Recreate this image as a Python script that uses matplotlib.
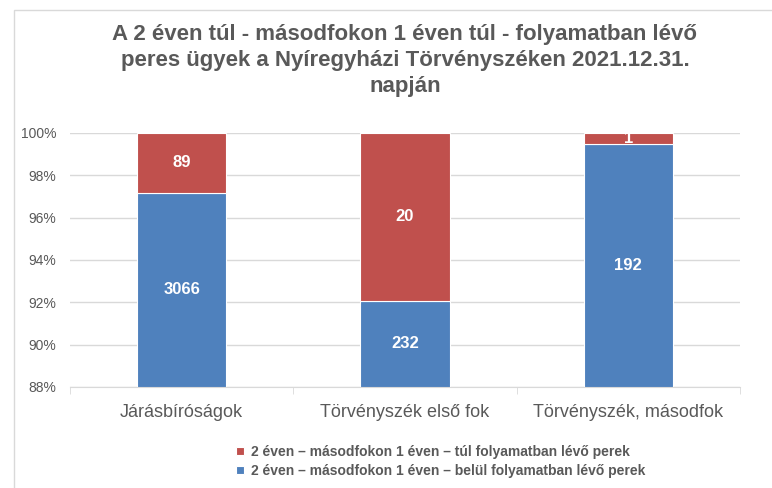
import numpy as np
import matplotlib.pyplot as plt
from matplotlib.patches import Rectangle
from matplotlib.ticker import FuncFormatter

categories = ['Járásbíróságok', 'Törvényszék első fok', 'Törvényszék, másodfok']
belul = [3066, 232, 192]   # 2 éven belül
tul = [89, 20, 1]          # 2 éven túl
legend_labels = ['2 éven – másodfokon 1 éven – túl folyamatban lévő perek',
                 '2 éven – másodfokon 1 éven – belül folyamatban lévő perek']
title = ('A 2 éven túl - másodfokon 1 éven túl - folyamatban lévő\n'
         'peres ügyek a Nyíregyházi Törvényszéken 2021.12.31.\nnapján')

plt.rcParams['font.family'] = ['Liberation Sans', 'DejaVu Sans']

blue = '#4F81BD'
red = '#C0504D'
grey = '#595959'

belul = np.array(belul, dtype=float)
tul = np.array(tul, dtype=float)
total = belul + tul
p_belul = belul / total
p_tul = tul / total

W, H = 772, 488
fig = plt.figure(figsize=(W / 100, H / 100), dpi=100)
ax = fig.add_axes([70 / W, 1 - 387 / H, 670 / W, 254 / H])

# outer frame of the chart area
fig.patches.append(Rectangle((14 / W, -0.1), 2, 1.1 - 10 / H, transform=fig.transFigure,
                             fill=False, edgecolor='#D9D9D9', linewidth=1))

x = np.arange(len(categories))
b1 = ax.bar(x, p_belul, width=0.4, color=blue, edgecolor='white', linewidth=0.8, zorder=3)
b2 = ax.bar(x, p_tul, width=0.4, bottom=p_belul, color=red, edgecolor='white',
            linewidth=0.8, zorder=3)

ymin = 0.88
for i in range(len(x)):
    # labels centred in the visible part of each segment
    ax.text(x[i], (ymin + p_belul[i]) / 2, str(int(belul[i])), ha='center', va='center',
            color='white', fontsize=12, fontweight='bold', zorder=4)
    ax.text(x[i], p_belul[i] + p_tul[i] / 2, str(int(tul[i])), ha='center', va='center',
            color='white', fontsize=12, fontweight='bold', zorder=4)

ax.set_ylim(ymin, 1.0)
ax.set_xlim(-0.5, 2.5)
ax.set_yticks(np.arange(0.88, 1.001, 0.02))
ax.yaxis.set_major_formatter(FuncFormatter(lambda v, p: f'{v * 100:.0f}%'))
ax.grid(axis='y', color='#D9D9D9', linewidth=1, zorder=0)
for s in ['top', 'right', 'left']:
    ax.spines[s].set_visible(False)
ax.spines['bottom'].set_color('#D9D9D9')
ax.spines['bottom'].set_zorder(5)
ax.tick_params(axis='y', length=0, labelsize=10, labelcolor=grey, pad=10)
ax.set_xticks(x)
ax.set_xticklabels(categories)
ax.tick_params(axis='x', length=0, labelsize=13, labelcolor=grey, pad=12)
ax.set_xticks([-0.5, 0.5, 1.5, 2.5], minor=True)
ax.tick_params(axis='x', which='minor', length=5, color='#D9D9D9', direction='out')

fig.text(405 / W, 1 - 24 / H, title, ha='center', va='top', fontsize=16,
         fontweight='bold', color=grey, linespacing=1.3)

fig.legend([b2, b1], legend_labels, loc='upper left', bbox_to_anchor=(229 / W, 1 - 438 / H),
           frameon=False, fontsize=10, labelcolor=grey, handlelength=0.55, handleheight=0.55,
           handletextpad=0.5, labelspacing=0.35, borderpad=0,
           prop={'weight': 'bold', 'size': 10})

fig.savefig('out.png', dpi=100)
